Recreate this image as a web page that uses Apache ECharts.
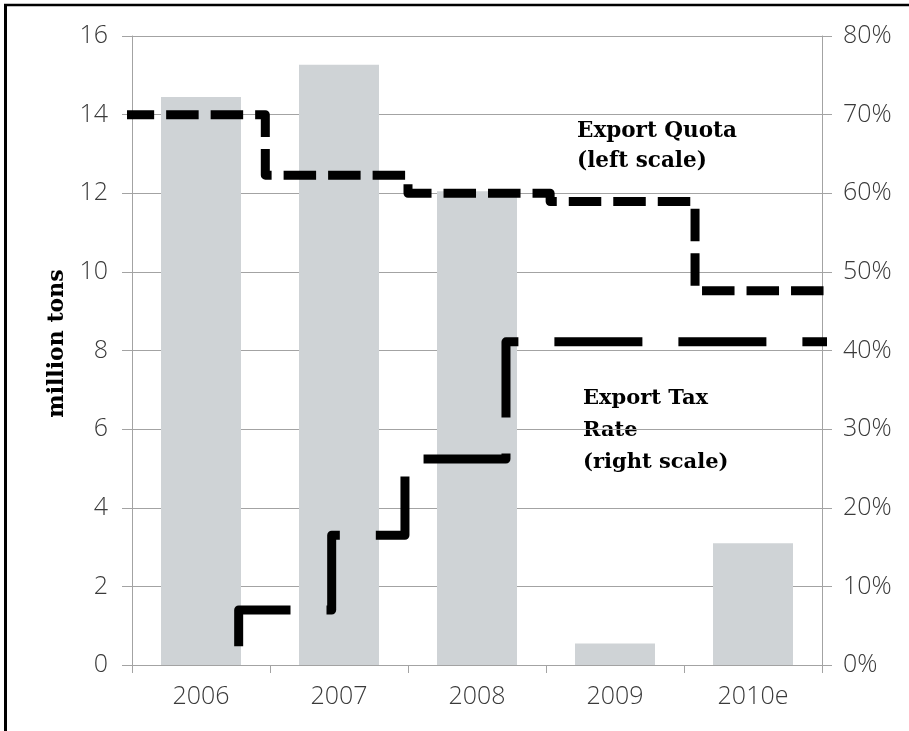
<!DOCTYPE html>
<html>
<head>
<meta charset="utf-8">
<script src="https://cdn.jsdelivr.net/npm/echarts@6/dist/echarts.min.js"></script>
<style>
html,body{margin:0;padding:0;background:#fff;}
#chart{width:909px;height:731px;}
</style>
</head>
<body>
<div id="chart"></div>
<script>
// Categories (years)
const categories = ['2006', '2007', '2008', '2009', '2010e'];
// Export volume, million tons (bars, left scale)
const exportVolume = [14.45, 15.27, 12.05, 0.55, 3.1];
// Export quota, million tons (left scale); x = position along the year axis (0..5)
const quotaSteps = [
  [-0.075, 14.0], [0.966, 14.0], [0.966, 12.46], [2.0, 12.46], [2.0, 12.0],
  [3.03, 12.0], [3.03, 11.79], [4.08, 11.79], [4.08, 9.52], [5.06, 9.52]
];
// Export tax rate, % (right scale)
const taxSteps = [
  [0.773, 2.4], [0.773, 7.0], [1.447, 7.0], [1.447, 16.5], [1.978, 16.5],
  [1.978, 26.2], [2.71, 26.2], [2.71, 41.1], [5.08, 41.1]
];
// Tick labels
const leftTicks = { min: 0, max: 16, interval: 2 };
const rightTicks = { min: 0, max: 80, interval: 10 };

const chart = echarts.init(document.getElementById('chart'), null, { renderer: 'canvas' });
const gridColor = '#a3a3a3';
const labelFont = { fontFamily: 'Open Sans', fontSize: 25, fontWeight: 300, color: '#3a3a3a' };

chart.setOption({
  backgroundColor: '#fff',
  animation: false,
  grid: { left: 132, right: 87, top: 36, bottom: 66, containLabel: false },
  xAxis: [
    {
      type: 'category',
      data: categories,
      boundaryGap: true,
      axisLine: { show: true, lineStyle: { color: gridColor, width: 1 } },
      axisTick: { show: true, length: 8, lineStyle: { color: gridColor } },
      axisLabel: Object.assign({ margin: 19 }, labelFont),
      splitLine: { show: false }
    },
    {
      type: 'value', min: 0, max: 5, show: false
    }
  ],
  yAxis: [
    {
      type: 'value',
      min: leftTicks.min, max: leftTicks.max, interval: leftTicks.interval,
      name: 'million tons',
      nameLocation: 'middle',
      nameRotate: 90,
      nameGap: 60,
      nameTextStyle: { fontFamily: 'DejaVu Serif', fontWeight: 'bold', fontSize: 22, color: '#000', padding: [0, 0, 0, 14] },
      axisLine: { show: true, lineStyle: { color: gridColor, width: 1 } },
      axisTick: { show: true, length: 10, lineStyle: { color: gridColor } },
      axisLabel: Object.assign({ margin: 24 }, labelFont),
      splitLine: { show: true, lineStyle: { color: gridColor, width: 1 } }
    },
    {
      type: 'value',
      min: rightTicks.min, max: rightTicks.max, interval: rightTicks.interval,
      position: 'right',
      axisLine: { show: true, lineStyle: { color: gridColor, width: 1 } },
      axisTick: { show: true, length: 10, lineStyle: { color: gridColor } },
      axisLabel: Object.assign({ margin: 21, formatter: '{value}%' }, labelFont),
      splitLine: { show: false }
    }
  ],
  series: [
    {
      name: 'Exports',
      type: 'bar',
      xAxisIndex: 0, yAxisIndex: 0,
      data: exportVolume,
      barWidth: 80,
      itemStyle: { color: '#cfd3d6' },
      z: 2
    },
    {
      name: 'Export Quota',
      type: 'line',
      xAxisIndex: 1, yAxisIndex: 0,
      data: quotaSteps,
      symbol: 'none',
      clip: false,
      lineStyle: { color: '#000', width: 9, type: [32.5, 12], cap: 'butt', join: 'round' },
      z: 5
    },
    {
      name: 'Export Tax Rate',
      type: 'line',
      xAxisIndex: 1, yAxisIndex: 1,
      data: taxSteps,
      symbol: 'none',
      clip: false,
      lineStyle: { color: '#000', width: 9, type: [88, 36], cap: 'butt', join: 'round' },
      z: 5
    }
  ],
  graphic: [
    { type: 'line', shape: { x1: 4, y1: 5, x2: 909, y2: 5 }, style: { stroke: '#000', lineWidth: 2.5 } },
    { type: 'line', shape: { x1: 5.5, y1: 4, x2: 5.5, y2: 731 }, style: { stroke: '#000', lineWidth: 3 } },
    {
      type: 'text', left: 577, top: 116,
      style: { text: 'Export Quota\n(left scale)', fontFamily: 'DejaVu Serif', fontWeight: 'bold', fontSize: 21.5, lineHeight: 30, fill: '#000' }
    },
    {
      type: 'text', left: 583, top: 383,
      style: { text: 'Export Tax\nRate\n(right scale)', fontFamily: 'DejaVu Serif', fontWeight: 'bold', fontSize: 21, lineHeight: 32, fill: '#000' }
    }
  ]
});
</script>
</body>
</html>
